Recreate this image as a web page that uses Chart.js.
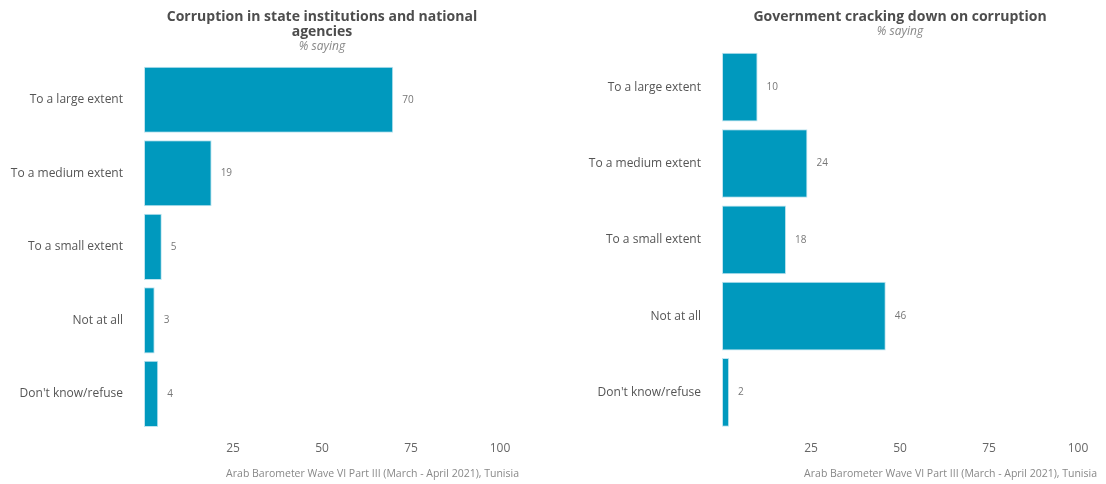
<!DOCTYPE html>
<html>
<head>
<meta charset="utf-8">
<script src="https://cdn.jsdelivr.net/npm/chart.js@4"></script>
<style>
  html, body { margin: 0; padding: 0; background: #fff; }
  .wrap { display: flex; width: 1106px; height: 484px; }
  .wrap canvas { display: block; }
</style>
</head>
<body>
<div class="wrap">
  <canvas id="leftChart" width="553" height="484"></canvas>
  <canvas id="rightChart" width="553" height="484"></canvas>
</div>
<script>
// answer categories, same for both panels
const categories = ['To a large extent', 'To a medium extent', 'To a small extent', 'Not at all', "Don't know/refuse"];

const corruptionValues = [70, 19, 5, 3, 4];
const crackdownValues = [10, 24, 18, 46, 2];

const xTicks = [25, 50, 75, 100];

const sourceNote = 'Arab Barometer Wave VI Part III (March - April 2021), Tunisia';

const barColor = '#0099be';
const fontFamily = "'Open Sans', 'Noto Sans', sans-serif";

// writes the value to the right of each bar
const valueLabels = {
    id: 'valueLabels',
    afterDatasetsDraw(chart) {
        const ctx = chart.ctx;
        const meta = chart.getDatasetMeta(0);
        ctx.save();
        ctx.font = '10px ' + fontFamily;
        ctx.fillStyle = '#777';
        ctx.textAlign = 'left';
        ctx.textBaseline = 'middle';
        meta.data.forEach(function(bar, i) {
            ctx.fillText(chart.data.datasets[0].data[i], bar.x + 9, bar.y);
        });
        ctx.restore();
    }
};

// source line under the x axis
const sourceCaption = {
    id: 'sourceCaption',
    afterDraw(chart) {
        const ctx = chart.ctx;
        const area = chart.chartArea;
        ctx.save();
        ctx.font = '10.5px ' + fontFamily;
        ctx.fillStyle = '#888';
        ctx.textAlign = 'right';
        ctx.textBaseline = 'middle';
        ctx.fillText(sourceNote, area.right + 19, area.bottom + 43);
        ctx.restore();
    }
};

function makeChart(id, title, values, axisWidth, rightPad, subPad) {
    return new Chart(document.getElementById(id), {
        type: 'bar',
        data: {
            labels: categories,
            datasets: [{
                data: values,
                backgroundColor: barColor,
                borderColor: '#bfe4ef',
                borderWidth: 1,
                borderSkipped: false,
                barPercentage: 0.9,
                categoryPercentage: 1.0
            }]
        },
        options: {
            indexAxis: 'y',
            responsive: false,
            animation: false,
            layout: {
                padding: { top: 0, right: rightPad, bottom: 25, left: 0 }
            },
            plugins: {
                legend: { display: false },
                tooltip: { enabled: false },
                title: {
                    display: true,
                    text: title,
                    fullSize: false,
                    color: '#4d4d4d',
                    font: { family: fontFamily, size: 14, weight: 'bold', lineHeight: 1.1 },
                    padding: { top: 9, bottom: 0 }
                },
                subtitle: {
                    display: true,
                    text: '% saying',
                    fullSize: false,
                    color: '#888',
                    font: { family: fontFamily, size: 12, style: 'italic', lineHeight: 1.2 },
                    padding: { top: 0, bottom: subPad }
                }
            },
            scales: {
                x: {
                    min: 0,
                    max: 100,
                    grid: { display: false },
                    border: { display: false },
                    afterBuildTicks: function(scale) {
                        scale.ticks = xTicks.map(function(v) { return { value: v }; });
                    },
                    ticks: {
                        color: '#666',
                        padding: 3,
                        maxRotation: 0,
                        font: { family: fontFamily, size: 12 }
                    }
                },
                y: {
                    grid: { display: false },
                    border: { display: false },
                    afterFit: function(scale) {
                        scale.width = axisWidth;
                    },
                    ticks: {
                        color: '#555',
                        padding: 13,
                        font: { family: fontFamily, size: 12 }
                    }
                }
            }
        },
        plugins: [valueLabels, sourceCaption]
    });
}

makeChart('leftChart', ['Corruption in state institutions and national', 'agencies'], corruptionValues, 144, 53, 8.8);
makeChart('rightChart', 'Government cracking down on corruption', crackdownValues, 169, 28, 10.2);
</script>
</body>
</html>
